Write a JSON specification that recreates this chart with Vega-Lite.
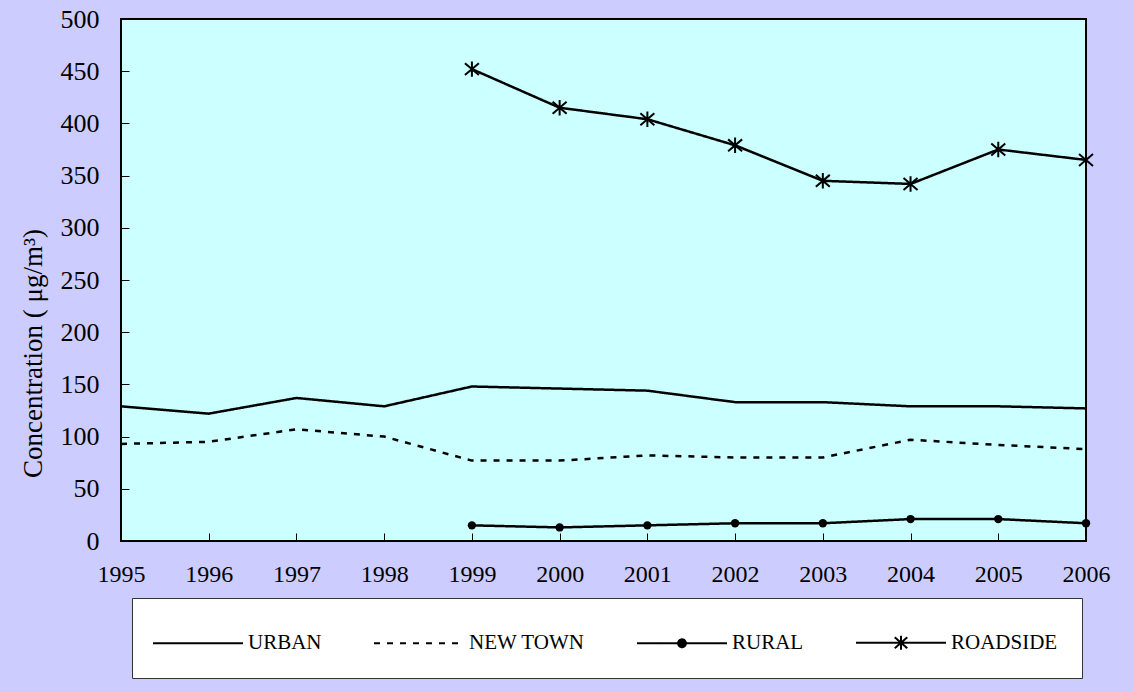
{
  "$schema": "https://vega.github.io/schema/vega-lite/v6.json",
  "autosize": {"type": "none"},
  "width": 965,
  "height": 522,
  "padding": {"left": 121, "top": 19, "right": 48, "bottom": 151},
  "background": "#CCCCFF",
  "config": {
    "font": "Liberation Serif",
    "view": {"fill": "#CCFFFF", "stroke": "black", "strokeWidth": 2},
    "axis": {"grid": false, "domain": false, "tickColor": "black", "tickWidth": 1, "labelColor": "black", "titleColor": "black", "labelFont": "Liberation Serif", "titleFont": "Liberation Serif"},
    "legend": {"labelFont": "Liberation Serif"}
  },
  "data": {
    "values": [
      {"year": 1995, "series": "URBAN", "value": 129},
      {"year": 1996, "series": "URBAN", "value": 122},
      {"year": 1997, "series": "URBAN", "value": 137},
      {"year": 1998, "series": "URBAN", "value": 129},
      {"year": 1999, "series": "URBAN", "value": 148},
      {"year": 2000, "series": "URBAN", "value": 146},
      {"year": 2001, "series": "URBAN", "value": 144},
      {"year": 2002, "series": "URBAN", "value": 133},
      {"year": 2003, "series": "URBAN", "value": 133},
      {"year": 2004, "series": "URBAN", "value": 129},
      {"year": 2005, "series": "URBAN", "value": 129},
      {"year": 2006, "series": "URBAN", "value": 127},
      {"year": 1995, "series": "NEW TOWN", "value": 93},
      {"year": 1996, "series": "NEW TOWN", "value": 95},
      {"year": 1997, "series": "NEW TOWN", "value": 107},
      {"year": 1998, "series": "NEW TOWN", "value": 100},
      {"year": 1999, "series": "NEW TOWN", "value": 77},
      {"year": 2000, "series": "NEW TOWN", "value": 77},
      {"year": 2001, "series": "NEW TOWN", "value": 82},
      {"year": 2002, "series": "NEW TOWN", "value": 80},
      {"year": 2003, "series": "NEW TOWN", "value": 80},
      {"year": 2004, "series": "NEW TOWN", "value": 97},
      {"year": 2005, "series": "NEW TOWN", "value": 92},
      {"year": 2006, "series": "NEW TOWN", "value": 88},
      {"year": 1999, "series": "RURAL", "value": 15},
      {"year": 2000, "series": "RURAL", "value": 13},
      {"year": 2001, "series": "RURAL", "value": 15},
      {"year": 2002, "series": "RURAL", "value": 17},
      {"year": 2003, "series": "RURAL", "value": 17},
      {"year": 2004, "series": "RURAL", "value": 21},
      {"year": 2005, "series": "RURAL", "value": 21},
      {"year": 2006, "series": "RURAL", "value": 17},
      {"year": 1999, "series": "ROADSIDE", "value": 452},
      {"year": 2000, "series": "ROADSIDE", "value": 415},
      {"year": 2001, "series": "ROADSIDE", "value": 404},
      {"year": 2002, "series": "ROADSIDE", "value": 379},
      {"year": 2003, "series": "ROADSIDE", "value": 345},
      {"year": 2004, "series": "ROADSIDE", "value": 342},
      {"year": 2005, "series": "ROADSIDE", "value": 375},
      {"year": 2006, "series": "ROADSIDE", "value": 365}
    ]
  },
  "encoding": {
    "x": {
      "field": "year", "type": "quantitative",
      "scale": {"domain": [1995, 2006], "nice": false, "zero": false},
      "axis": {"title": null, "values": [1995,1996,1997,1998,1999,2000,2001,2002,2003,2004,2005,2006], "format": "d", "labelFontSize": 24, "tickSize": -8, "labelPadding": 29, "labelFlush": false, "labelOverlap": false}
    },
    "y": {
      "field": "value", "type": "quantitative",
      "scale": {"domain": [0, 500], "nice": false},
      "axis": {"title": "Concentration (  μg/m³)", "values": [0,50,100,150,200,250,300,350,400,450,500], "labelFontSize": 26, "tickSize": -8, "labelPadding": 30, "titleFontSize": 27, "titleFontWeight": "normal", "titleX": -88, "titleY": 334, "titleBaseline": "middle", "titleAngle": -90, "labelFlush": false, "labelOverlap": false}
    }
  },
  "layer": [
    {
      "mark": {"type": "line", "strokeWidth": 2.5},
      "encoding": {
        "color": {
          "field": "series", "type": "nominal",
          "scale": {"domain": ["URBAN", "NEW TOWN", "RURAL", "ROADSIDE"], "range": ["black", "black", "black", "black"]},
          "legend": {
            "title": null,
            "orient": "none",
            "legendX": 11,
            "legendY": 579,
            "direction": "horizontal",
            "columns": 4,
            "fillColor": "white",
            "strokeColor": "#333333",
            "padding": 24,
            "columnPadding": 47,
            "symbolSize": 1521,
            "symbolStrokeWidth": 2,
            "symbolOffset": 21.5,
            "labelFontSize": 21,
            "labelColor": "black",
            "labelOffset": 29.5,
            "labelLimit": 300,
            "encode": {
              "symbols": {
                "update": {
                  "shape": {"signal": "datum.value === 'RURAL' ? 'M-2.308,0H2.308M0.2,0A0.2,0.2 0 1,1 -0.2,0A0.2,0.2 0 1,1 0.2,0Z' : datum.value === 'ROADSIDE' ? 'M-2.308,0H2.308M-0.32,-0.28L0.32,0.28M-0.32,0.28L0.32,-0.28M0,-0.36V0.36' : 'M-2.308,0H2.308'"},
                  "strokeDash": {"signal": "datum.value === 'NEW TOWN' ? [5, 7] : [1, 0]"},
                  "fill": {"value": "black"},
                  "stroke": {"value": "black"},
                  "strokeWidth": {"value": 2},
                  "opacity": {"value": 1}
                }
              }
            }
          }
        },
        "strokeDash": {
          "field": "series", "type": "nominal",
          "scale": {"domain": ["URBAN", "NEW TOWN", "RURAL", "ROADSIDE"], "range": [[1, 0], [6, 7], [1, 0], [1, 0]]},
          "legend": null
        }
      }
    },
    {
      "transform": [{"filter": "datum.series === 'RURAL'"}],
      "mark": {"type": "point", "shape": "circle", "filled": true, "size": 70, "color": "black", "opacity": 1}
    },
    {
      "transform": [{"filter": "datum.series === 'ROADSIDE'"}],
      "mark": {"type": "point", "shape": "M-1,-0.85L1,0.85M-1,0.85L1,-0.85M0,-1.1V1.1", "filled": false, "size": 196, "stroke": "black", "strokeWidth": 2, "opacity": 1}
    }
  ]
}
